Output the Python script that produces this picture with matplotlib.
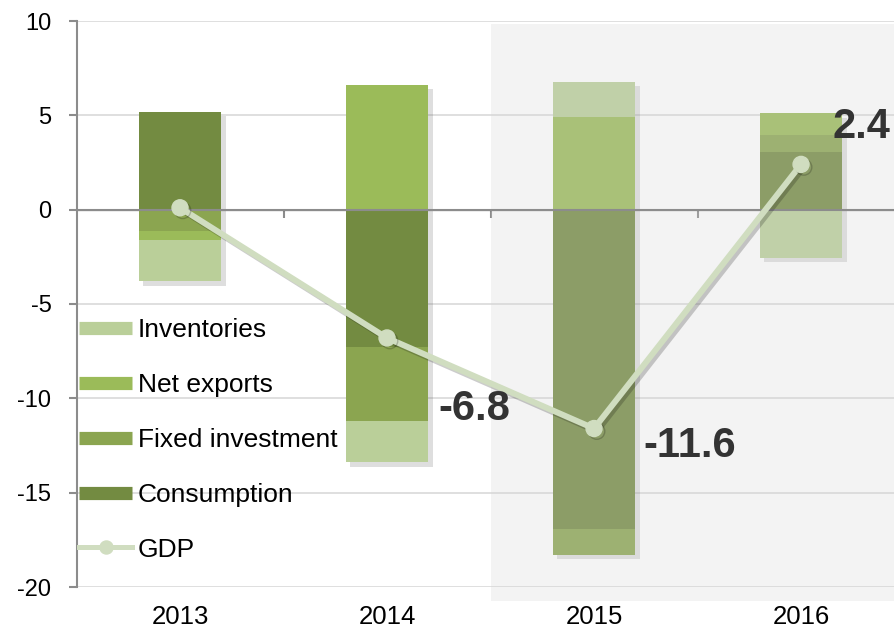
import numpy as np
import matplotlib
matplotlib.use("Agg")
import matplotlib.pyplot as plt
import matplotlib.patheffects as pe
from matplotlib.lines import Line2D
from matplotlib.patches import Rectangle

plt.rcParams['font.family'] = ['Liberation Sans', 'DejaVu Sans']
plt.rcParams['axes.unicode_minus'] = False

# contributions to growth, percentage points
years = ['2013', '2014', '2015', '2016']
consumption = [5.2, -7.3, -16.9, 3.05]
fixed_investment = [-1.15, -3.9, -1.4, 0.9]
net_exports = [-0.45, 6.6, 4.9, 1.15]
inventories = [-2.2, -2.2, 1.85, -2.55]
gdp = [0.1, -6.8, -11.6, 2.4]

series = [
    ('Consumption', consumption, '#738b41'),
    ('Fixed investment', fixed_investment, '#8ba550'),
    ('Net exports', net_exports, '#9bbb59'),
    ('Inventories', inventories, '#bacf99'),
]
gdp_color = '#d0ddc0'
grey = '#8c8c8c'

fig = plt.figure(figsize=(8.94, 6.30), dpi=100)
ax = fig.add_axes([76.5 / 894, 1 - 587 / 630, (894 - 76.5) / 894, (587 - 21) / 630])

x = np.arange(len(years))
vals_all = np.array([s[1] for s in series])
top = np.where(vals_all > 0, vals_all, 0).sum(axis=0)
low = np.where(vals_all < 0, vals_all, 0).sum(axis=0)

# one shadow per whole bar
ax.bar(x, top - low, 0.4, bottom=low, color='white', linewidth=0, zorder=1.9,
       path_effects=[pe.SimplePatchShadow(offset=(3, -3), alpha=0.18), pe.Normal()])

pos_bottom = np.zeros(len(years))
neg_bottom = np.zeros(len(years))
for name, vals, col in series:
    vals = np.array(vals)
    bottom = np.where(vals >= 0, pos_bottom, neg_bottom)
    ax.bar(x, vals, 0.4, bottom=bottom, color=col, zorder=2, linewidth=0)
    pos_bottom += np.where(vals >= 0, vals, 0)
    neg_bottom += np.where(vals < 0, vals, 0)

# shaded forecast area
ax.add_patch(Rectangle((1.5, -20.75), 2.5, 30.6, transform=ax.transData,
                       facecolor='#d4d4d4', alpha=0.26, lw=0, zorder=2.5, clip_on=False))

ax.axhline(0, color=grey, lw=1.5, zorder=3)

ax.plot(x, gdp, color=gdp_color, lw=4.3, marker='o', markersize=11.5, zorder=4,
        path_effects=[pe.SimpleLineShadow(offset=(2, -2), alpha=0.2), pe.Normal()])

offsets = [None, (51, -71), (49, -17), (31, 37)]
for xi, v, off in zip(x, gdp, offsets):
    if off is None:
        continue
    ax.annotate(f'{v:.1f}', (xi, v), xytext=off, textcoords='offset pixels',
                ha='left', va='center', fontsize=30, fontweight='bold',
                color='#333333', zorder=5, annotation_clip=False)

ax.set_xlim(-0.5, 3.449)
ax.set_ylim(-20, 10)
ax.set_yticks(range(-20, 11, 5))
ax.set_xticks(x)
ax.set_xticklabels(years)
ax.yaxis.grid(True, color='#d9d9d9', lw=1.2)
ax.set_axisbelow(True)
for s in ['top', 'right', 'bottom']:
    ax.spines[s].set_visible(False)
ax.spines['left'].set_color(grey)
ax.spines['left'].set_linewidth(1.5)
ax.tick_params(axis='y', length=6, width=1.5, color=grey, pad=12, labelsize=17)
ax.tick_params(axis='x', length=0, pad=13, labelsize=18.5)

# category tick marks on the zero line
sec = ax.secondary_xaxis(20 / 30)
sec.set_xticks(x[:-1] + 0.5)
sec.set_xticklabels([])
sec.tick_params(length=6, width=1.5, color=grey, direction='in')
sec.spines['bottom'].set_visible(False)

handles = [Line2D([], [], color=col, lw=9.5, solid_capstyle='butt')
           for _, _, col in series[::-1]]
handles.append(Line2D([], [], color=gdp_color, lw=3.6, marker='o', markersize=9.4))
labels = [name for name, _, _ in series[::-1]] + ['GDP']
fig.legend(handles, labels, loc='upper left', bbox_to_anchor=(66 / 894, 1 - 305 / 630),
           frameon=False, borderpad=0, handlelength=2.0, handletextpad=0.23,
           labelspacing=1.17, fontsize=19)

fig.savefig('out.png', dpi=100)
